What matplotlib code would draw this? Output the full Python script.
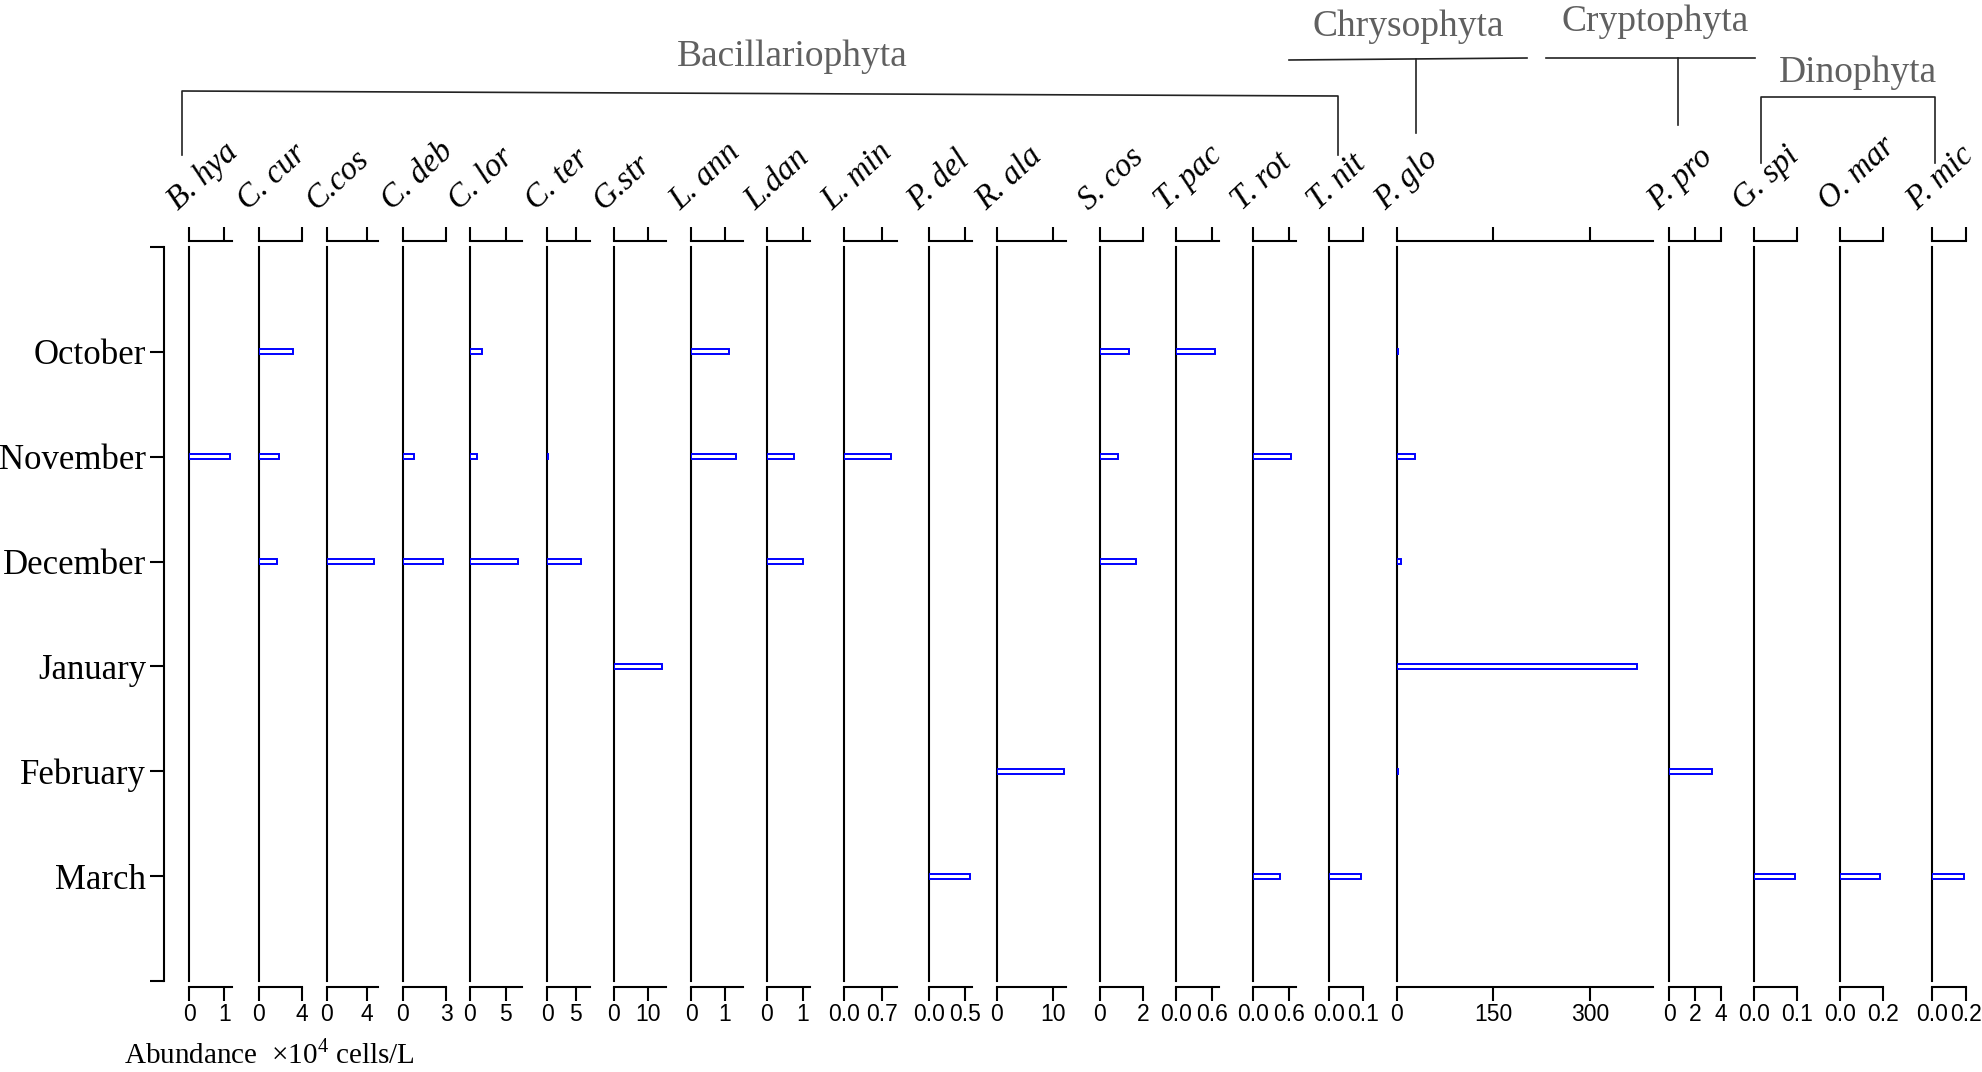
import matplotlib.pyplot as plt
from matplotlib.lines import Line2D

# ------------------------------------------------------------------
# data (x10^4 cells/L)
# ------------------------------------------------------------------
MONTHS = ['October', 'November', 'December', 'January', 'February', 'March']

SPECIES = ['B. hya', 'C. cur', 'C.cos', 'C. deb', 'C. lor', 'C. ter', 'G.str',
           'L. ann', 'L.dan', 'L. min', 'P. del', 'R. ala', 'S. cos', 'T. pac',
           'T. rot', 'T. nit', 'P. glo', 'P. pro', 'G. spi', 'O. mar', 'P. mic']

# one row per species: Oct, Nov, Dec, Jan, Feb, Mar
ABUNDANCE = [
    [0, 1.17, 0, 0, 0, 0],          # B. hya
    [3.2, 1.88, 1.72, 0, 0, 0],     # C. cur
    [0, 0, 4.73, 0, 0, 0],          # C. cos
    [0, 0.81, 2.82, 0, 0, 0],       # C. deb
    [1.68, 0.98, 6.78, 0, 0, 0],    # C. lor
    [0, 0.2, 5.93, 0, 0, 0],        # C. ter
    [0, 0, 0, 14.1, 0, 0],          # G. str
    [1.14, 1.34, 0, 0, 0, 0],       # L. ann
    [0, 0.77, 1.02, 0, 0, 0],       # L. dan
    [0, 0.87, 0, 0, 0, 0],          # L. min
    [0, 0, 0, 0, 0, 0.568],         # P. del
    [0, 0, 0, 0, 12.0, 0],          # R. ala
    [1.36, 0.85, 1.69, 0, 0, 0],    # S. cos
    [0.645, 0, 0, 0, 0, 0],         # T. pac
    [0, 0.645, 0, 0, 0, 0.455],     # T. rot
    [0, 0, 0, 0, 0, 0.096],         # T. nit
    [2.5, 29, 6.7, 373, 2.5, 0],    # P. glo
    [0, 0, 0, 0, 3.31, 0],          # P. pro
    [0, 0, 0, 0, 0, 0.096],         # G. spi
    [0, 0, 0, 0, 0, 0.1875],        # O. mar
    [0, 0, 0, 0, 0, 0.19],          # P. mic
]

X_MAX = [1.23, 4, 5.17, 3, 7.34, 7.56, 15.4, 1.55, 1.21, 0.976, 0.60, 12.4,
         2, 0.716, 0.728, 0.1, 398, 4, 0.1, 0.2, 0.2]

X_TICKS = [[0, 1], [0, 4], [0, 4], [0, 3], [0, 5], [0, 5], [0, 10], [0, 1],
           [0, 1], [0, 0.7], [0, 0.5], [0, 10], [0, 2], [0, 0.6], [0, 0.6],
           [0, 0.1], [0, 150, 300], [0, 2, 4], [0, 0.1], [0, 0.2], [0, 0.2]]

X_TICK_LABELS = [['0', '1'], ['0', '4'], ['0', '4'], ['0', '3'], ['0', '5'],
                 ['0', '5'], ['0', '10'], ['0', '1'], ['0', '1'],
                 ['0.0', '0.7'], ['0.0', '0.5'], ['0', '10'], ['0', '2'],
                 ['0.0', '0.6'], ['0.0', '0.6'], ['0.0', '0.1'],
                 ['0', '150', '300'], ['0', '2', '4'], ['0.0', '0.1'],
                 ['0.0', '0.2'], ['0.0', '0.2']]

GROUPS = ['Bacillariophyta', 'Chrysophyta', 'Cryptophyta', 'Dinophyta']

# ------------------------------------------------------------------
# layout (pixels of the 1982 x 1072 output, measured from the top-left)
# ------------------------------------------------------------------
FIG_W, FIG_H = 1982, 1072
PANEL_LEFT = [189, 258.7, 326.7, 402.7, 470, 547, 614, 691, 766.7, 843.7,
              928.7, 996.7, 1099.7, 1176, 1252.7, 1328.7, 1396.7, 1669, 1754,
              1840, 1932]
PANEL_RIGHT = [232.3, 302, 378.3, 446, 522.3, 590.3, 666.3, 743.3, 810.3,
               896.7, 972.3, 1066, 1142.7, 1219.3, 1296.3, 1362.7, 1653.3,
               1721, 1796.7, 1882.7, 1965.7]
# horizontal start of each slanted species name, relative to its panel
LABEL_OFFSET = [-11] * 20 + [-15]
AX_TOP, AX_BOTTOM = 247, 981
YAXIS_X = 164

GROUP_TEXT_POS = [(792, 57), (1408, 27), (1655, 22), (1858, 73)]
GROUP_LINES = [
    [(182, 155), (182, 91), (1338, 96), (1338, 155)],
    [(1289, 60), (1527, 58)],
    [(1416, 59), (1416, 133)],
    [(1546, 58), (1755, 58)],
    [(1678, 58), (1678, 125)],
    [(1761, 163), (1761, 97), (1935, 97), (1935, 163)],
]

SERIF = 'Liberation Serif'
SANS = 'Liberation Sans'
BAR_BLUE = '#0000FF'
GROUP_GREY = '#606060'


def fx(x):
    return x / FIG_W


def fy(y):
    return 1 - y / FIG_H


def desenhar_eixo_meses(fig):
    """Left axis carrying the month names."""
    bottom = fy(AX_BOTTOM)
    height = fy(AX_TOP) - bottom
    ax = fig.add_axes([fx(YAXIS_X), bottom, 0.001, height])
    ax.set_ylim(6, -1)
    for side in ['top', 'right', 'bottom']:
        ax.spines[side].set_visible(False)
    ax.spines['left'].set_linewidth(1.5)
    ax.set_xticks([])
    ax.set_yticks(range(-1, 7))
    ax.set_yticklabels([''] + MONTHS + [''], family=SERIF, fontsize=25)
    ax.tick_params(axis='y', direction='out', length=10, width=1.5, pad=3)
    ax.patch.set_visible(False)


def desenhar_painel(fig, i):
    bottom = fy(AX_BOTTOM)
    height = fy(AX_TOP) - bottom
    left = fx(PANEL_LEFT[i])
    width = fx(PANEL_RIGHT[i]) - left
    ax = fig.add_axes([left, bottom, width, height])

    ypos = [k for k, v in enumerate(ABUNDANCE[i]) if v > 0]
    vals = [v for v in ABUNDANCE[i] if v > 0]
    ax.barh(ypos, vals, height=0.045, color='white', edgecolor=BAR_BLUE,
            linewidth=1.4, zorder=3)

    ax.set_xlim(0, X_MAX[i])
    ax.set_ylim(6, -1)
    ax.spines['right'].set_visible(False)
    ax.spines['left'].set_linewidth(1.5)
    for side in ['top', 'bottom']:
        ax.spines[side].set_position(('outward', 4))
        ax.spines[side].set_linewidth(1.5)
    ax.set_yticks([])
    ax.set_xticks(X_TICKS[i])
    ax.set_xticklabels(X_TICK_LABELS[i], family=SANS, fontsize=16.5)
    ax.tick_params(axis='x', top=True, bottom=True, labeltop=False,
                   labelbottom=True, direction='out', length=10, width=1.5,
                   pad=2)
    ax.patch.set_visible(False)

    # species name, italic and slanted
    fig.text(fx(PANEL_LEFT[i] + LABEL_OFFSET[i]), fy(211), SPECIES[i],
             rotation=43, rotation_mode='anchor', ha='left', va='baseline',
             fontsize=23.5, family=SERIF, style='italic')


def desenhar_grupos(fig):
    for nome, (x, y) in zip(GROUPS, GROUP_TEXT_POS):
        fig.text(fx(x), fy(y), nome, ha='center', va='center', fontsize=27,
                 family=SERIF, color=GROUP_GREY)
    for pts in GROUP_LINES:
        xs = [fx(p[0]) for p in pts]
        ys = [fy(p[1]) for p in pts]
        fig.add_artist(Line2D(xs, ys, transform=fig.transFigure,
                              color='#222222', linewidth=1.2))


def main():
    plt.rcParams['mathtext.fontset'] = 'custom'
    plt.rcParams['mathtext.rm'] = SERIF
    fig = plt.figure(figsize=(FIG_W / 100, FIG_H / 100), dpi=100)

    desenhar_eixo_meses(fig)
    for i in range(len(SPECIES)):
        desenhar_painel(fig, i)
    desenhar_grupos(fig)

    fig.text(fx(124), fy(1063), 'Abundance  \u00d710${}^{4}$ cells/L',
             ha='left', va='baseline', fontsize=21, family=SERIF)

    fig.savefig('out.png', dpi=100)
    plt.close(fig)


if __name__ == '__main__':
    main()
